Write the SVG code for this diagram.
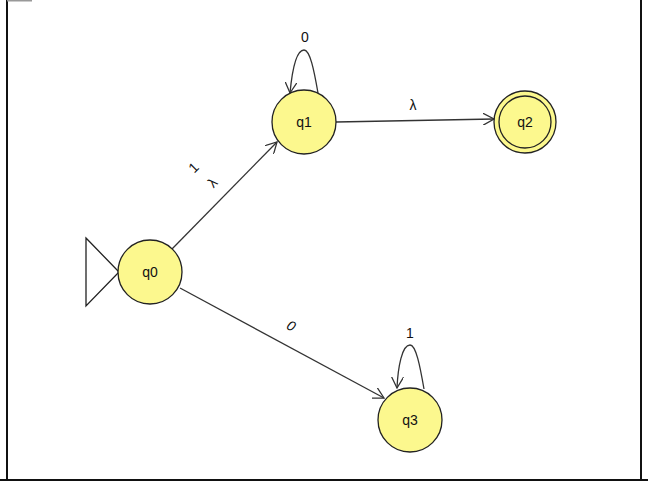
<svg xmlns="http://www.w3.org/2000/svg" width="648" height="486" viewBox="0 0 648 486">
<style>
.st{fill:#fcf88e;stroke:#222;stroke-width:1.3}
.e{fill:none;stroke:#333;stroke-width:1.3}
text{font-family:"Liberation Sans",Arial,sans-serif;font-size:14px;fill:#111;text-anchor:middle}
</style>
<defs><marker id="a" viewBox="0 0 12 12" refX="11" refY="6" markerWidth="12" markerHeight="12" markerUnits="userSpaceOnUse" orient="auto"><path d="M0,0 L11,6 L0,12" fill="none" stroke="#333" stroke-width="1.3"/></marker></defs>
<rect width="648" height="486" fill="#fff"/>
<g id="frame" stroke="#111" stroke-width="2"><line x1="7" y1="0" x2="7" y2="480"/><line x1="641" y1="0" x2="641" y2="480"/><line x1="0" y1="480" x2="648" y2="480"/><line x1="7" y1="0.5" x2="32" y2="0.5" stroke="#999"/></g>
<g id="connectors">
<line class="e" x1="172" y1="249" x2="277" y2="142" marker-end="url(#a)"/>
<line class="e" x1="336" y1="122" x2="494" y2="119" marker-end="url(#a)"/>
<line class="e" x1="180" y1="288" x2="384" y2="398" marker-end="url(#a)"/>
<path class="e" d="M318,93 C314,70 310,50 304,50 C296,50 292,72 290,93" marker-end="url(#a)"/>
<path class="e" d="M424,389 C420,366 416,345 410,345 C402,345 398,367 397,388" marker-end="url(#a)"/>
<text transform="translate(197,171) rotate(-45)">1</text>
<text transform="translate(216,186) rotate(-45)">λ</text>
<text x="413" y="110">λ</text>
<text transform="translate(289,330) rotate(28)" font-style="italic">0</text>
<text x="305" y="42">0</text>
<text x="410" y="338">1</text>
</g>
<g id="q0"><polygon points="86,238 119,272 86,306" fill="none" stroke="#222" stroke-width="1.3"/><circle class="st" cx="150" cy="272" r="32"/><text x="150" y="277">q0</text></g>
<g id="q1"><circle class="st" cx="304" cy="122" r="32"/><text x="304" y="127">q1</text></g>
<g id="q2"><circle class="st" cx="525" cy="122" r="31"/><circle class="st" cx="525" cy="122" r="26"/><text x="525" y="127">q2</text></g>
<g id="q3"><circle class="st" cx="410" cy="420" r="32"/><text x="410" y="425">q3</text></g>
</svg>
